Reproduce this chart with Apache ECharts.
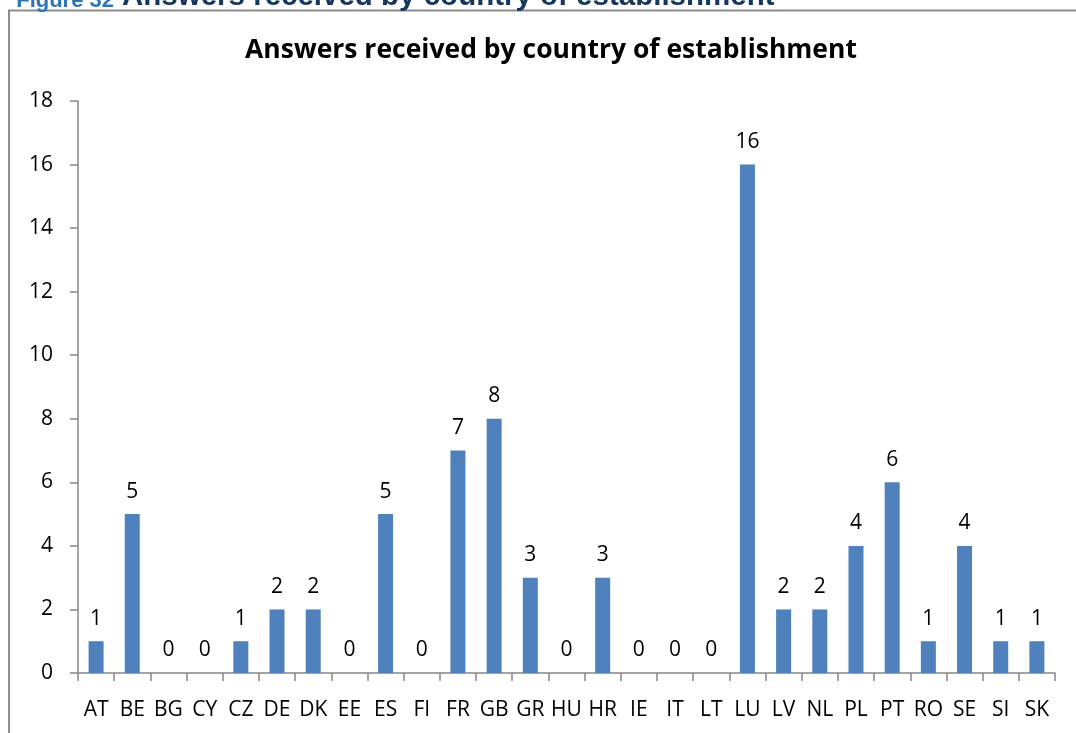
<!DOCTYPE html>
<html><head><meta charset="utf-8">
<script src="https://cdn.jsdelivr.net/npm/echarts@6/dist/echarts.min.js"></script>
<style>html,body{margin:0;padding:0;background:#fff}#c{width:1076px;height:733px}</style>
</head><body><div id="c"></div>
<script>
const categories = ['AT','BE','BG','CY','CZ','DE','DK','EE','ES','FI','FR','GB','GR','HU','HR','IE','IT','LT','LU','LV','NL','PL','PT','RO','SE','SI','SK'];
const answers = [1,5,0,0,1,2,2,0,5,0,7,8,3,0,3,0,0,0,16,2,2,4,6,1,4,1,1];
const yTicks = {min:0, max:18, interval:2};
const titleText = 'Answers received by country of establishment';
const captionLabel = 'Figure 32';

const chart = echarts.init(document.getElementById('c'));
const font = '"Open Sans", Lato, sans-serif';
chart.setOption({
  animation:false,
  title:{text:titleText,left:546,top:32,textAlign:'center',
    textStyle:{fontFamily:font,fontWeight:'bold',fontSize:26.5,color:'#000'}},
  graphic:[
    {type:'rect',shape:{x:9,y:10.5,width:1080,height:740},style:{fill:'none',stroke:'#8c8c8c',lineWidth:2}},
    {type:'text',x:114,y:12,style:{text:captionLabel,align:'right',verticalAlign:'bottom',
      font:'bold 22px "Liberation Sans", Arial, sans-serif',fill:'#2E75B6'}},
    {type:'text',x:122,y:12,style:{text:titleText,align:'left',verticalAlign:'bottom',
      font:'bold 29.5px "Liberation Sans", Arial, sans-serif',fill:'#17365D'}}
  ],
  grid:{left:78,right:21,top:101,bottom:60,containLabel:false},
  xAxis:{type:'category',data:categories,
    axisLine:{lineStyle:{color:'#868686',width:1.5}},
    axisTick:{show:true,length:8,lineStyle:{color:'#868686',width:1.5},alignWithLabel:false},
    axisLabel:{interval:0,color:'#000',fontFamily:font,fontSize:21,margin:27}},
  yAxis:{type:'value',min:yTicks.min,max:yTicks.max,interval:yTicks.interval,
    axisLine:{show:true,lineStyle:{color:'#868686',width:1.5}},
    axisTick:{show:true,length:8,lineStyle:{color:'#868686',width:1.5}},
    splitLine:{show:false},
    axisLabel:{color:'#000',fontFamily:font,fontSize:21,margin:25}},
  series:[{type:'bar',data:answers,barWidth:15,
    itemStyle:{color:'#4F81BD'},
    label:{show:true,position:'top',distance:12,color:'#000',fontFamily:font,fontSize:21}}]
});
</script></body></html>
